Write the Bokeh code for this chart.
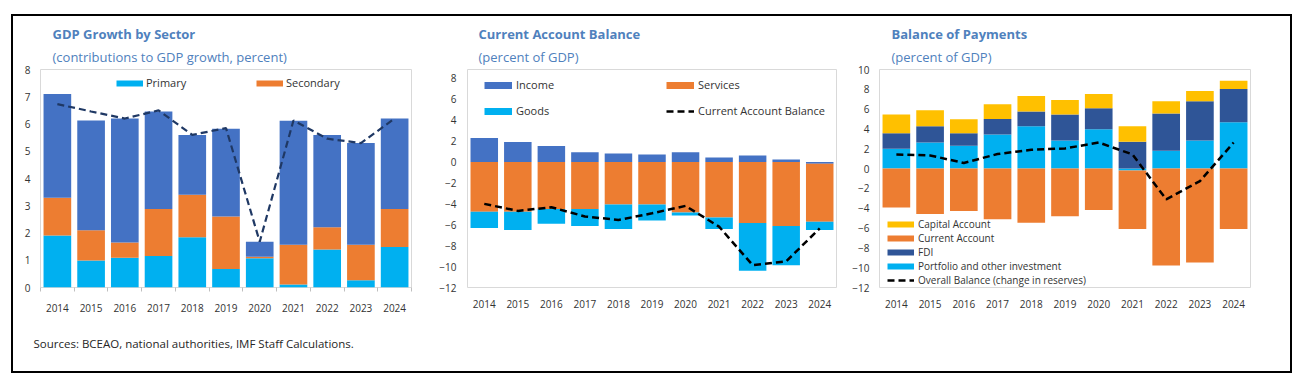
import numpy as np
from bokeh.plotting import figure
from bokeh.models import Range1d, FixedTicker, SingleIntervalTicker, Legend, LegendItem, Title
from bokeh.layouts import row
from bokeh.embed import file_html
from bokeh.resources import INLINE

# ---------------- data ----------------
years = [2014, 2015, 2016, 2017, 2018, 2019, 2020, 2021, 2022, 2023, 2024]

# GDP growth by sector (contributions, percent)
gdp_primary = [1.91, 0.99, 1.09, 1.16, 1.84, 0.68, 1.07, 0.11, 1.39, 0.27, 1.49]
gdp_secondary = [1.38, 1.11, 0.56, 1.72, 1.56, 1.93, 0.06, 1.46, 0.82, 1.30, 1.39]
gdp_tertiary = [3.81, 4.03, 4.55, 3.58, 2.20, 3.22, 0.55, 4.55, 3.39, 3.73, 3.32]
gdp_growth = [6.73, 6.46, 6.20, 6.50, 5.60, 5.85, 1.68, 6.13, 5.46, 5.30, 6.20]

# Current account balance (percent of GDP)
ca_income = [2.30, 1.92, 1.53, 0.93, 0.83, 0.73, 0.93, 0.45, 0.64, 0.26, -0.15]
ca_services = [-4.74, -4.74, -4.48, -4.48, -4.06, -4.06, -4.83, -5.31, -5.82, -6.11, -5.55]
ca_goods = [-1.56, -1.76, -1.41, -1.63, -2.34, -1.54, -0.29, -1.09, -4.58, -3.75, -0.80]
ca_balance = [-4.00, -4.67, -4.32, -5.20, -5.54, -4.90, -4.19, -6.18, -9.86, -9.50, -6.34]

# Balance of payments (percent of GDP)
bop_portfolio = [2.00, 2.63, 2.30, 3.43, 4.27, 2.83, 3.97, -0.20, 1.80, 2.83, 4.67]
bop_fdi = [1.57, 1.64, 1.27, 1.57, 1.50, 2.64, 2.13, 2.70, 3.77, 3.97, 3.36]
bop_current = [-3.93, -4.57, -4.27, -5.10, -5.47, -4.80, -4.17, -5.90, -9.77, -9.47, -6.10]
bop_capital = [1.90, 1.63, 1.40, 1.50, 1.56, 1.46, 1.43, 1.57, 1.23, 1.03, 0.84]
bop_overall = [1.43, 1.33, 0.57, 1.47, 1.90, 2.03, 2.63, 1.43, -3.10, -1.27, 2.63]

# ---------------- styles ----------------
FONT = "Open Sans"
C_LIGHT = "#00B0F0"
C_ORANGE = "#ED7D31"
C_BLUE = "#4472C4"
C_DARK = "#2F5597"
C_GOLD = "#FFC000"
TITLE_C = "#4F81BD"
TXT_C = "#333333"


def stack(series_list):
    pos = np.zeros(len(years))
    neg = np.zeros(len(years))
    out = []
    for s in series_list:
        s = np.asarray(s, dtype=float)
        bottom = np.where(s >= 0, pos, neg + s)
        top = np.where(s >= 0, pos + s, neg)
        pos = pos + np.where(s >= 0, s, 0)
        neg = neg + np.where(s < 0, s, 0)
        out.append((bottom, top))
    return out


def make_fig(width, ml, mr, mb, y0, y1, ystand, minor=False):
    p = figure(width=width, height=355, x_range=Range1d(years[0] - 0.5, years[-1] + 0.5),
               y_range=Range1d(y0, y1), output_backend="svg", toolbar_location=None,
               min_border_left=ml, min_border_right=mr, min_border_top=53, min_border_bottom=mb)
    p.grid.visible = False
    p.outline_line_color = "#D9D9D9"
    p.outline_line_width = 1
    p.border_fill_color = "white"
    p.background_fill_color = "white"
    bounds = [y - 0.5 for y in years] + [years[-1] + 0.5]
    xa = p.xaxis[0]
    xa.ticker = FixedTicker(ticks=years, minor_ticks=bounds if minor else [])
    xa.axis_line_color = None
    xa.major_tick_line_color = None
    xa.major_tick_out = 0
    xa.major_tick_in = 0
    xa.minor_tick_line_color = "#BFBFBF" if minor else None
    xa.minor_tick_out = 4
    xa.minor_tick_in = 0
    xa.major_label_standoff = 12
    xa.major_label_text_font = FONT
    xa.major_label_text_font_size = "10px"
    xa.major_label_text_color = TXT_C
    ya = p.yaxis[0]
    ya.axis_line_color = None
    ya.major_tick_line_color = None
    ya.major_tick_out = 0
    ya.major_tick_in = 0
    ya.minor_tick_line_color = None
    ya.minor_tick_out = 0
    ya.major_label_standoff = ystand
    ya.major_label_text_font = FONT
    ya.major_label_text_font_size = "10px"
    ya.major_label_text_color = TXT_C
    return p


def titles(p, x, title, sub):
    p.add_layout(Title(text=sub, align="left", offset=x, standoff=7,
                       text_font=FONT, text_font_size="13px", text_font_style="normal",
                       text_color=TITLE_C), "above")
    p.add_layout(Title(text=title, align="left", offset=x, standoff=0,
                       text_font=FONT, text_font_size="13px", text_font_style="bold",
                       text_color=TITLE_C), "above")


def swatch(p, color, width=6, dash="solid"):
    return p.line(x=[np.nan], y=[np.nan], line_color=color, line_width=width, line_dash=dash)


def legend(items, loc, orientation, glyph_w, standoff, label_w, size):
    return Legend(items=items, location=loc, orientation=orientation,
                  glyph_width=glyph_w, glyph_height=14, label_height=14, label_width=label_w,
                  label_standoff=standoff, spacing=0, padding=0, margin=0,
                  border_line_color=None, background_fill_alpha=0,
                  label_text_font=FONT, label_text_font_size=size, label_text_color=TXT_C)


W = 0.82

# ---------------- panel 1 ----------------
p1 = make_fig(422, 27, 24, 83, 0, 8, 10, minor=True)
p1.yaxis[0].ticker = SingleIntervalTicker(interval=1)
for (b, t), c in zip(stack([gdp_primary, gdp_secondary, gdp_tertiary]), [C_LIGHT, C_ORANGE, C_BLUE]):
    p1.vbar(x=years, bottom=b, top=t, width=W, fill_color=c, line_color=None)
p1.line(years, gdp_growth, line_color="#1F3864", line_width=2.2, line_dash="7 4")
p1.add_layout(legend([LegendItem(label="Primary", renderers=[swatch(p1, C_LIGHT)]),
                      LegendItem(label="Secondary", renderers=[swatch(p1, C_ORANGE)])],
                     (76, 197), "horizontal", 27, 3, 110, "11px"))
titles(p1, 12, "GDP Growth by Sector", "(contributions to GDP growth, percent)")
p1.add_layout(Title(text="Sources: BCEAO, national authorities, IMF Staff Calculations.",
                    align="left", offset=-7, standoff=39, text_font=FONT,
                    text_font_size="11.5px", text_font_style="normal", text_color="#262626"),
              "below")

# ---------------- panel 2 ----------------
p2 = make_fig(413, 32, 12, 84, -12, 8.86, 11)
p2.yaxis[0].ticker = SingleIntervalTicker(interval=2)
for (b, t), c in zip(stack([ca_income, ca_services, ca_goods]), [C_BLUE, C_ORANGE, C_LIGHT]):
    p2.vbar(x=years, bottom=b, top=t, width=W, fill_color=c, line_color=None)
r_cab = p2.line(years, ca_balance, line_color="black", line_width=2.5, line_dash="7 4")
p2.add_layout(legend([LegendItem(label="Income", renderers=[swatch(p2, C_BLUE, 7)]),
                      LegendItem(label="Services", renderers=[swatch(p2, C_ORANGE, 7)])],
                     (17, 195), "horizontal", 28, 4, 150, "11px"))
p2.add_layout(legend([LegendItem(label="Goods", renderers=[swatch(p2, C_LIGHT, 7)]),
                      LegendItem(label="Current Account Balance", renderers=[r_cab])],
                     (17, 169), "horizontal", 28, 4, 150, "11px"))
titles(p2, 11, "Current Account Balance", "(percent of GDP)")

# ---------------- panel 3 ----------------
p3 = make_fig(442, 31, 40, 81, -12, 10, 10)
p3.yaxis[0].ticker = SingleIntervalTicker(interval=2)
cols3 = [C_LIGHT, C_DARK, C_ORANGE, C_GOLD]
for (b, t), c in zip(stack([bop_portfolio, bop_fdi, bop_current, bop_capital]), cols3):
    p3.vbar(x=years, bottom=b, top=t, width=W, fill_color=c, line_color=None)
r_ov = p3.line(years, bop_overall, line_color="black", line_width=2.5, line_dash="7 4")
p3.add_layout(legend([LegendItem(label="Capital Account", renderers=[swatch(p3, C_GOLD)]),
                      LegendItem(label="Current Account", renderers=[swatch(p3, C_ORANGE)]),
                      LegendItem(label="FDI", renderers=[swatch(p3, C_DARK)]),
                      LegendItem(label="Portfolio and other investment",
                                 renderers=[swatch(p3, C_LIGHT)]),
                      LegendItem(label="Overall Balance (change in reserves)",
                                 renderers=[r_ov])],
                     (8, 0), "vertical", 27, 4, 20, "10px"))
titles(p3, 12, "Balance of Payments", "(percent of GDP)")

layout = row(p1, p2, p3, styles={"border": "2px solid black", "margin": "14px 0 0 11px",
                                 "box-sizing": "content-box"})

open("out.html", "w").write(file_html(layout, INLINE))
